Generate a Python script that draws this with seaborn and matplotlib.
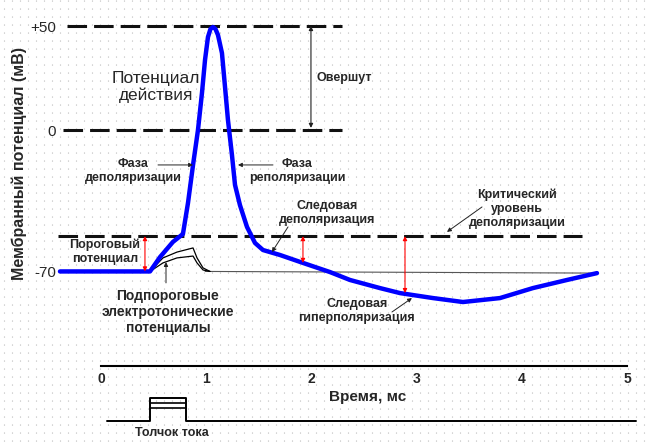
import numpy as np
import matplotlib.pyplot as plt
import seaborn as sns

# membrane potential trace, time in ms, potential in mV
ap_time = [-0.39, 0.466, 0.561, 0.684, 0.779, 0.827, 0.875, 0.922, 0.96, 0.989, 1.017, 1.041,
           1.065, 1.088, 1.112, 1.15, 1.179, 1.207, 1.245, 1.274, 1.321, 1.388, 1.464, 1.54,
           1.702, 1.92, 2.177, 2.367, 2.652, 2.842, 3.156, 3.441, 3.793, 4.106, 4.43, 4.715]
ap_mv = [-68, -68, -61.1, -53.8, -50, -35.1, -16.8, 0, 17.8, 33.7, 44.7, 48.6,
         49.5, 48.6, 45.7, 37.0, 20.7, 4.8, -12, -26.4, -36.1, -46.6, -54.3, -57.7,
         -60.1, -63.9, -68.3, -72.1, -76, -78.4, -80.8, -82.7, -80.8, -76, -72.1, -68.8]

# subthreshold electrotonic potentials
sub_time = [0.466, 0.589, 0.722, 0.875, 0.913, 0.970, 1.036]
sub_hi_mv = [-68, -61.5, -58.7, -56.7, -61.5, -66.3, -68]
sub_lo_mv = [-68, -63.9, -61.5, -60.6, -63.9, -67.3, -68]
rest_time = [0.99, 4.715]
rest_mv = [-68, -68.8]

rest_level = -68
threshold = -51
overshoot = 50
zero_level = 0
y_ticks = [50, 0, -68]
y_tick_labels = ["+50", "0", "-70"]
time_ticks = [0, 1, 2, 3, 4, 5]

# current pulse under the time axis
pulse_start, pulse_end = 0.466, 0.808

sns.set_style("white")
plt.rcParams['font.family'] = ['Liberation Sans', 'DejaVu Sans']

fig = plt.figure(figsize=(6.48, 4.44), dpi=100)

# faint dotted paper texture
bg = fig.add_axes([0, 0, 1, 1], zorder=0)
bg.set_xlim(0, 648)
bg.set_ylim(444, 0)
bg.vlines(np.arange(4, 648, 8), 0, 444, colors='#bdbdbd', linewidth=0.8,
          linestyles=(0, (1.0, 6.2)))
bg.axis('off')

ax = fig.add_axes([0, 0, 1, 1], zorder=1)
ax.set_facecolor('none')
ax.set_xlim(-0.96, 5.2)
ax.set_ylim(-150.96, 62.5)

# dashed reference levels
dash_kw = dict(color='#111111', lw=2.2, dashes=(6.4, 2.3))
ax.plot([-0.323, 2.291], [overshoot, overshoot], **dash_kw)
ax.plot([-0.361, 2.291], [zero_level, zero_level], **dash_kw)
ax.plot([-0.409, 4.572], [threshold, threshold], **dash_kw)

# traces
sns.lineplot(x=rest_time, y=rest_mv, ax=ax, color='#555555', lw=0.8,
             sort=False, estimator=None)
sns.lineplot(x=sub_time, y=sub_hi_mv, ax=ax, color='black', lw=0.9,
             sort=False, estimator=None)
sns.lineplot(x=sub_time, y=sub_lo_mv, ax=ax, color='black', lw=0.9,
             sort=False, estimator=None)
sns.lineplot(x=ap_time, y=ap_mv, ax=ax, color='#0000ff', lw=3.2,
             sort=False, estimator=None)
for line in ax.get_lines():
    line.set_solid_joinstyle('round')
    line.set_solid_capstyle('round')

# red double arrows from threshold down to the trace
for t, v in [(0.418, rest_level), (1.92, -63.9), (2.89, -78.4)]:
    ax.annotate('', xy=(t, threshold), xytext=(t, v),
                arrowprops=dict(arrowstyle='<|-|>', color='red', lw=0.8,
                                mutation_scale=6, shrinkA=0, shrinkB=0))

# overshoot bracket
ax.annotate('', xy=(1.996, overshoot), xytext=(1.996, 1),
            arrowprops=dict(arrowstyle='<|-|>', color='#222222', lw=0.8,
                            mutation_scale=6, shrinkA=0, shrinkB=0))
ax.text(2.053, 25, "Овершут", ha='left', va='center', fontsize=9, fontweight='bold')

# pointer arrows
pointers = [((0.542, -16.8), (0.875, -16.8)),
            ((1.635, -16.8), (1.302, -16.8)),
            ((1.778, -46.6), (1.625, -58.7)),
            ((3.622, -37.0), (3.289, -49.0)),
            ((2.766, -87.5), (2.956, -80.8)),
            ((0.618, -73.5), (0.618, -63.5))]
for start, end in pointers:
    ax.annotate('', xy=end, xytext=start,
                arrowprops=dict(arrowstyle='-|>', color='#222222', lw=0.7,
                                mutation_scale=6, shrinkA=0, shrinkB=0))

lab = dict(ha='center', va='center', fontsize=9, fontweight='bold', linespacing=1.2)
ax.text(0.523, 20.7, "Потенциал\nдействия", ha='center', va='center', fontsize=12.5,
        linespacing=1.15)
ax.text(0.304, -19.7, "Фаза\nдеполяризации", **lab)
ax.text(1.863, -19.7, "Фаза\nреполяризации", **lab)
ax.text(2.148, -39.9, "Следовая\nдеполяризация", **lab)
ax.text(3.954, -38.0, "Критический\nуровень\nдеполяризации", **lab)
ax.text(2.433, -87.0, "Следовая\nгиперполяризация", **lab)
ax.text(0.038, -58.7, "Пороговый\nпотенциал", **lab)
ax.text(0.637, -87.5, "Подпороговые\nэлектротонические\nпотенциалы", ha='center',
        va='center', fontsize=10, fontweight='bold', linespacing=1.2)

# y axis: only the level labels
ax.spines['left'].set_position(('data', -0.399))
ax.spines['left'].set_visible(False)
ax.set_yticks(y_ticks)
ax.set_yticklabels(y_tick_labels, fontsize=11)
ax.tick_params(axis='y', length=0, pad=2)
ax.text(-0.779, -16, "Мембранный потенциал (мВ)", rotation=90, ha='center',
        va='center', fontsize=11.5, fontweight='bold')

# time axis
for side in ['top', 'right']:
    ax.spines[side].set_visible(False)
ax.spines['bottom'].set_position(('data', -113.5))
ax.spines['bottom'].set_bounds(0, 5)
ax.spines['bottom'].set_linewidth(1.5)
ax.spines['bottom'].set_color('black')
ax.set_xticks(time_ticks)
ax.set_xticklabels([str(t) for t in time_ticks], fontsize=10, fontweight='bold')
ax.tick_params(axis='x', direction='in', length=5.8, width=1.5, pad=4, color='black')
ax.text(2.538, -128.4, "Время, мс", ha='center', va='center', fontsize=11,
        fontweight='bold')

# stimulus
base, top = -139.9, -128.8
ax.plot([0.057, pulse_start, pulse_start, pulse_end, pulse_end, 5.086],
        [base, base, top, top, base, base], color='black', lw=1.4)
ax.plot([pulse_start, pulse_end], [-131.25, -131.25], color='black', lw=1.2)
ax.plot([pulse_start, pulse_end], [-133.7, -133.7], color='black', lw=1.2)
ax.text(0.675, -145.7, "Толчок тока", ha='center', va='center', fontsize=9,
        fontweight='bold')

fig.savefig("out.png", dpi=100)
